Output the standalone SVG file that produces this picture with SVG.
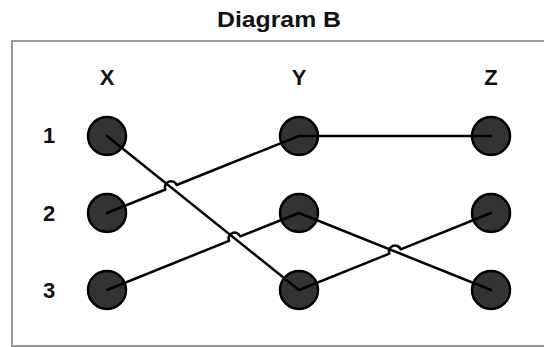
<svg xmlns="http://www.w3.org/2000/svg" width="544" height="347" viewBox="0 0 544 347">
<style>
.t{font-family:"Liberation Sans",Arial,sans-serif;font-weight:bold;fill:#111;text-anchor:middle}
.node circle{fill:#333;stroke:#000;stroke-width:2.5}
.edge{fill:none;stroke:#000;stroke-width:2.5;stroke-linejoin:round;stroke-linecap:round}
</style>
<rect x="0" y="0" width="544" height="347" fill="#fff"/>
<text class="t" x="279" y="27" font-size="22" textLength="124" lengthAdjust="spacingAndGlyphs">Diagram B</text>
<rect x="12" y="41" width="560" height="305" fill="none" stroke="#999" stroke-width="2"/>
<g id="labels">
<text class="t" x="107" y="85" font-size="22">X</text>
<text class="t" x="299" y="85" font-size="22">Y</text>
<text class="t" x="491" y="85" font-size="22">Z</text>
<text class="t" x="49" y="143" font-size="22">1</text>
<text class="t" x="49" y="221" font-size="22">2</text>
<text class="t" x="49" y="298" font-size="22">3</text>
</g>
<g id="nodes">
<g id="X1" class="node"><circle cx="107" cy="136" r="19"/></g>
<g id="X2" class="node"><circle cx="107" cy="213" r="19"/></g>
<g id="X3" class="node"><circle cx="107" cy="290" r="19"/></g>
<g id="Y1" class="node"><circle cx="299" cy="136" r="19"/></g>
<g id="Y2" class="node"><circle cx="299" cy="213" r="19"/></g>
<g id="Y3" class="node"><circle cx="299" cy="290" r="19"/></g>
<g id="Z1" class="node"><circle cx="491" cy="136" r="19"/></g>
<g id="Z2" class="node"><circle cx="491" cy="213" r="19"/></g>
<g id="Z3" class="node"><circle cx="491" cy="290" r="19"/></g>
</g>
<g id="connectors">
<path class="edge" d="M107,136 L299,290"/>
<path class="edge" d="M107,213 L165.4,189.5 A6,6 0 0 1 176.6,185 L299,136"/>
<path class="edge" d="M107,290 L229,240.9 A6,6 0 0 1 240.2,236.4 L299,213"/>
<path class="edge" d="M299,136 L491,136"/>
<path class="edge" d="M299,213 L491,290"/>
<path class="edge" d="M299,290 L389.4,253.7 A6,6 0 0 1 400.6,249.3 L491,213"/>
</g>
</svg>
